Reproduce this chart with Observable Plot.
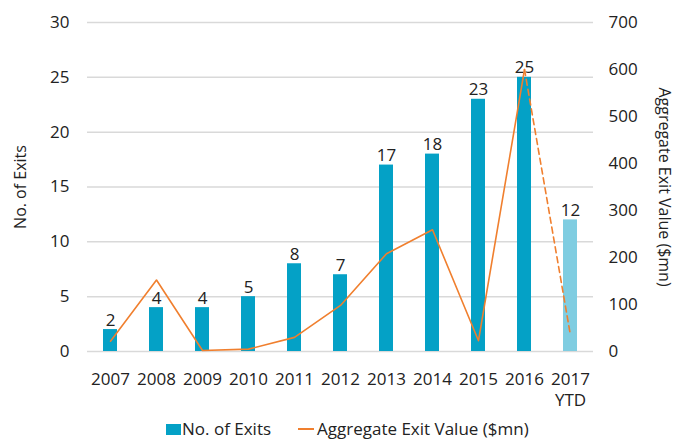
<!DOCTYPE html>
<html>
<head>
<meta charset="utf-8">
<script src="https://cdn.jsdelivr.net/npm/d3@7"></script>
<script src="https://cdn.jsdelivr.net/npm/@observablehq/plot@0.6"></script>
<style>
  html, body { margin: 0; padding: 0; background: #fff; }
  body { width: 690px; height: 439px; font-family: "Open Sans", sans-serif; color: #222; overflow: hidden; }
  #legend { position: relative; height: 27px; font-size: 17px; color: #222; }
  .item { position: absolute; top: 5px; height: 24px; line-height: 24px; display: flex; align-items: center; white-space: nowrap; }
  .sq { width: 15px; height: 11px; background: #04A1C6; margin-right: 1px; }
  .ln { width: 16px; height: 2px; background: #F07F2E; margin-right: 3px; }
</style>
</head>
<body>
<div id="chart"></div>
<div id="legend">
  <div class="item" style="left:166px"><span class="sq"></span>No. of Exits</div>
  <div class="item" style="left:298px"><span class="ln"></span>Aggregate Exit Value ($mn)</div>
</div>
<script>
const categories = ["2007","2008","2009","2010","2011","2012","2013","2014","2015","2016","2017 YTD"];
const exits = [2,4,4,5,8,7,17,18,23,25,12];
const exitValue = [22,152,2,5,30,98,208,259,23,600,34];
const leftTicks = [0,5,10,15,20,25,30];
const rightTicks = [0,100,200,300,400,500,600,700];
const ytdFlags = [false,false,false,false,false,false,false,false,false,false,true];

const DARK = "#04A1C6", LIGHT = "#7FCDE1", ORANGE = "#F07F2E";
const R = 30 / 700;

const data = categories.map((c, i) => ({cat: c, exits: exits[i], value: exitValue[i], ytd: ytdFlags[i]}));
const solid = data.slice(0, 10);
const dashed = data.slice(9);

const chart = Plot.plot({
  width: 690,
  height: 412,
  marginLeft: 87,
  marginRight: 97,
  marginTop: 22,
  marginBottom: 61,
  style: {fontFamily: "'Open Sans', sans-serif", fontSize: "17px", color: "#222", background: "#fff"},
  x: {domain: categories, paddingInner: 0.685, paddingOuter: 0.3425, axis: null},
  y: {domain: [0, 30], axis: null},
  color: {type: "identity"},
  marks: [
    Plot.gridY(leftTicks, {stroke: "#d9d9d9", strokeOpacity: 1, strokeWidth: 1.5}),
    Plot.barY(data, {x: "cat", y: "exits", fill: d => d.ytd ? LIGHT : DARK}),
    Plot.text(data, {x: "cat", y: "exits", text: d => String(d.exits), lineAnchor: "bottom", dy: -4, fontSize: 17, fill: "#222"}),
    Plot.line(solid, {x: "cat", y: d => d.value * R, stroke: ORANGE, strokeWidth: 1.6}),
    Plot.line(dashed, {x: "cat", y: d => d.value * R, stroke: ORANGE, strokeWidth: 1.6, strokeDasharray: "6,4"}),
    Plot.axisY(leftTicks, {anchor: "left", tickSize: 0, tickPadding: 18, fontSize: 17, label: null}),
    Plot.axisY(rightTicks.map(v => v * R), {anchor: "right", tickSize: 0, tickPadding: 15, fontSize: 17, label: null, textAnchor: "start", tickFormat: d => String(Math.round(d / R))}),
    Plot.axisX({anchor: "bottom", tickSize: 0, tickPadding: 18, fontSize: 17, lineHeight: 1.25, label: null, tickFormat: d => d.replace(" ", "\n"), lineAnchor: "top"}),
    Plot.text(["No. of Exits"], {frameAnchor: "left", dx: -67, rotate: -90, textAnchor: "middle", fontSize: 16, fill: "#222"}),
    Plot.text(["Aggregate Exit Value ($mn)"], {frameAnchor: "right", dx: 71, rotate: 90, textAnchor: "middle", fontSize: 16, fill: "#222"})
  ]
});
document.getElementById("chart").appendChild(chart);
</script>
</body>
</html>
